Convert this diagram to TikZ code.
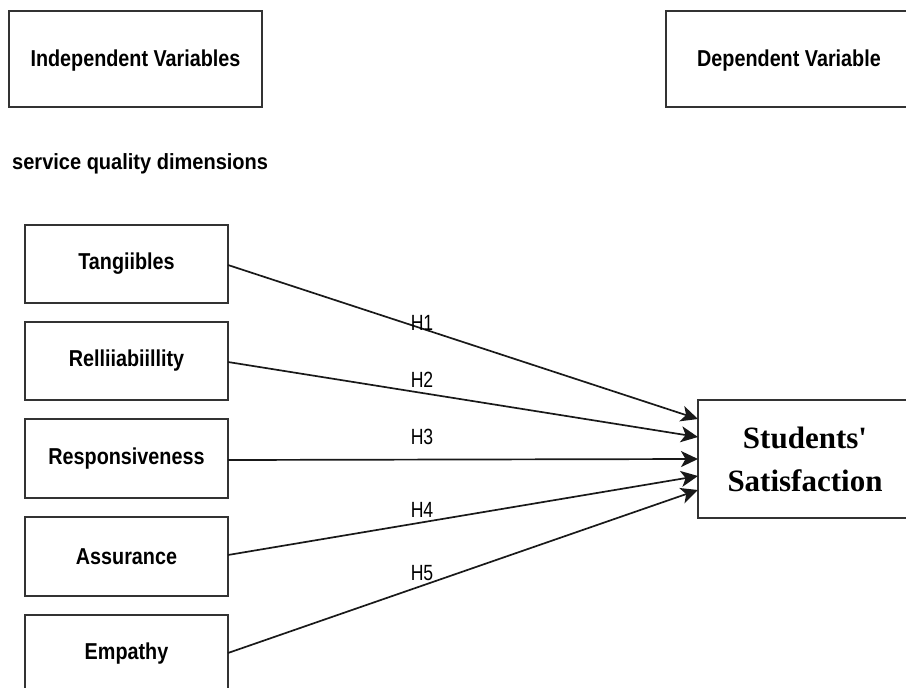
\documentclass[tikz,border=0pt]{standalone}
\usepackage{fontspec}
\usepackage{graphicx}
\setmainfont{Liberation Sans}
\newfontfamily\serifbold{Liberation Serif}
\usetikzlibrary{arrows.meta}
\newcommand{\bl}[1]{\scalebox{0.86}[1]{\bfseries #1}}
\newcommand{\hl}[1]{\scalebox{0.8}[1]{#1}}
\tikzset{
  framebox/.style={draw=black!80, line width=1.5pt, fill=white},
  boxlabel/.style={font=\fontsize{23}{27}\selectfont, inner sep=0pt},
  hlabel/.style={font=\fontsize{22}{26}\selectfont, inner sep=0pt},
  link/.style={line width=1.7pt, draw=black!90, -{Stealth[length=17pt,width=16pt,inset=4.5pt]}},
}
\begin{document}
\begin{tikzpicture}[x=1pt,y=-1pt]
\useasboundingbox (0,0) rectangle (906,688);
\clip (0,0) rectangle (906,688);
% header boxes
\draw[framebox] (9,11) rectangle (262,107);
\node[boxlabel] (iv) at (135.5,61) {\bl{Independent Variables}};
\draw[framebox] (666,11) rectangle (912,107);
\node[boxlabel] (dv) at (789,61) {\bl{Dependent Variable}};
\node[font=\fontsize{22}{26}\selectfont, anchor=west, inner sep=0pt] (sqd) at (12,164) {\scalebox{0.91}[1]{\bfseries service quality dimensions}};
% left boxes
\node[framebox, minimum width=203pt, minimum height=78pt, inner sep=0pt, boxlabel] (t) at (126.5,264) {\bl{Tangiibles}};
\node[framebox, minimum width=203pt, minimum height=78pt, inner sep=0pt, boxlabel] (r) at (126.5,361) {\bl{Relliiabiillity}};
\node[framebox, minimum width=203pt, minimum height=79pt, inner sep=0pt, boxlabel] (rs) at (126.5,458.5) {\bl{Responsiveness}};
\node[framebox, minimum width=203pt, minimum height=79pt, inner sep=0pt, boxlabel] (a) at (126.5,556.5) {\bl{Assurance}};
\node[framebox, minimum width=203pt, minimum height=78pt, inner sep=0pt, boxlabel] (e) at (126.5,654) {\bl{Empathy}};
% target box
\node[framebox, minimum width=214pt, minimum height=118pt, inner sep=0pt, align=center,
  font=\serifbold\bfseries\fontsize{31}{43}\selectfont] (s) at (805,459) {Students'\\Satisfaction};
% end coordinates
\coordinate (e1) at (698,419);
\coordinate (e2) at (698,437);
\coordinate (e3) at (698,459);
\coordinate (e4) at (698,476);
\coordinate (e5) at (698,490);
\coordinate (s1) at (228,265);
\coordinate (s2) at (228,362);
\coordinate (s3) at (228,460);
\coordinate (s4) at (228,555);
\coordinate (s5) at (228,653);
\draw[link] (s1) -- (e1);
\draw[link] (s2) -- (e2);
\draw[link] (s3) -- (e3);
\draw[link] (s4) -- (e4);
\draw[link] (s5) -- (e5);
\node[hlabel] (h1) at (422,323) {\hl{H1}};
\node[hlabel] (h2) at (422,380) {\hl{H2}};
\node[hlabel] (h3) at (422,437) {\hl{H3}};
\node[hlabel] (h4) at (422,510) {\hl{H4}};
\node[hlabel] (h5) at (422,573) {\hl{H5}};
\end{tikzpicture}
\end{document}
